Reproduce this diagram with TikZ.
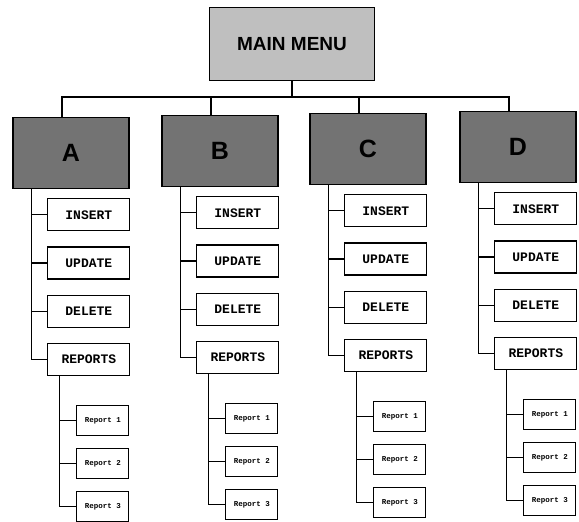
\documentclass[tikz,border=0pt]{standalone}
\usepackage{fontspec}
\setmainfont{Liberation Sans}
\newfontfamily\typefont{Liberation Mono}
\usetikzlibrary{positioning}
\tikzstyle{mainbox} = [rectangle, minimum width=165pt, minimum height=73pt, text centered, draw=black, line width=1pt, fill=black!25, font=\fontsize{19}{21}\selectfont\bfseries]
\tikzstyle{headbox} = [rectangle, minimum width=116pt, minimum height=71pt, text centered, draw=black, line width=1.5pt, fill=black!55, font=\fontsize{25}{27}\selectfont\bfseries]
\tikzstyle{itembox} = [rectangle, minimum width=82pt, minimum height=32pt, text centered, draw=black, line width=1.2pt, fill=white, font=\typefont\fontsize{13}{15}\selectfont\bfseries]
\tikzstyle{subbox} = [rectangle, minimum width=52pt, minimum height=30pt, text centered, draw=black, line width=1.2pt, fill=white, font=\typefont\fontsize{7.5}{9}\selectfont\bfseries]
\tikzstyle{bus} = [line width=2.5pt]
\tikzstyle{branch} = [line width=1.2pt]

\begin{document}
\begin{tikzpicture}[x=1pt, y=-1pt]
    \useasboundingbox (0,0) rectangle (579,522);
    % Nodes
    \node (menu) [mainbox] at (292,44) {MAIN MENU};
    \coordinate (bus) at (0,97);
    \foreach \n/\x/\y in {A/71/153, B/220/151, C/368/149, D/518/147} {
        \node (\n) [headbox] at (\x,\y) {\n};
        \node (\n-ins) [itembox, anchor=west] at ([xshift=35pt, yshift=-98pt]\n.north west) {INSERT};
        \node (\n-upd) [itembox, below=15pt of \n-ins] {UPDATE};
        \node (\n-del) [itembox, below=15pt of \n-upd] {DELETE};
        \node (\n-rep) [itembox, below=15pt of \n-del] {REPORTS};
        \node (\n-r1) [subbox, anchor=west] at ([xshift=29pt, yshift=-61pt]\n-rep.west) {Report 1};
        \node (\n-r2) [subbox, below=12pt of \n-r1] {Report 2};
        \node (\n-r3) [subbox, below=12pt of \n-r2] {Report 3};

        % Lines
        \draw [bus] (menu.south) -- (menu.south |- bus) -| ([xshift=-9pt]\n.north);
        \foreach \k in {ins, upd, del, rep}
            \draw [branch] ([xshift=19pt]\n.south west) |- (\n-\k.west);
        \foreach \k in {r1, r2, r3}
            \draw [branch] ([xshift=12pt]\n-rep.south west) |- (\n-\k.west);
    }
\end{tikzpicture}
\end{document}
